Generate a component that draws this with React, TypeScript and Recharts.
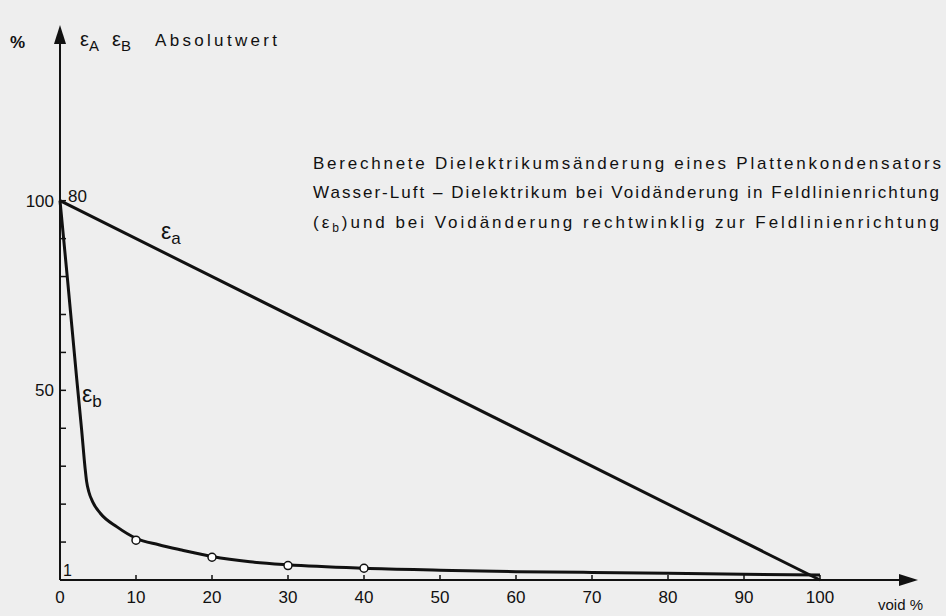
import { LineChart, Line, XAxis, YAxis, ReferenceDot } from 'recharts';

// void content in % (x) and relative dielectric value in % (y)
const voidB = [0, 1, 2.2, 2.85, 3.3, 3.5, 3.8, 4.3, 5.3, 7.5, 10, 13, 16, 20, 25, 30, 40, 50, 60, 70, 80, 90, 100];
const epsB = [100, 79, 53, 39.5, 29.5, 26, 23.2, 20.6, 17.6, 14, 11, 9.3, 7.9, 6.2, 4.8, 4, 3.1, 2.6, 2.2, 2, 1.8, 1.5, 1.3];

const voidA = [0, 100];
const epsA = [100, 0];

// measured points drawn as open circles on the eps_b curve
const markVoid = [10, 20, 30, 40];
const markEps = [10.5, 6, 3.8, 3.1];

const xTicks = [0, 10, 20, 30, 40, 50, 60, 70, 80, 90, 100];
const yTicks = [10, 20, 30, 40, 50, 60, 70, 80, 90, 100];
const yLabelled = [50, 100];

const toRows = (xs: number[], ys: number[]) => xs.map((x, i) => ({ x, y: ys[i] }));

const FONT = '"Liberation Sans", Arial, sans-serif';
const INK = '#111';

const XTick = ({ x, y, payload }: any) => (
    <g>
        {payload.value > 0 && <line x1={x} x2={x} y1={y} y2={y - 5} stroke={INK} strokeWidth={1.5} />}
        <text x={x} y={y + 23} textAnchor="middle" fontSize={17} fontFamily={FONT} fill={INK}>
            {payload.value}
        </text>
    </g>
);

const YTick = ({ x, y, payload }: any) => (
    <g>
        <line x1={x} x2={x + 6} y1={y} y2={y} stroke={INK} strokeWidth={1.5} />
        {yLabelled.includes(payload.value) && (
            <text x={x - 6} y={y + 6} textAnchor="end" fontSize={17} fontFamily={FONT} fill={INK}>
                {payload.value}
            </text>
        )}
        {payload.value === 100 && (
            <text x={x + 8} y={y + 1} fontSize={17} fontFamily={FONT} fill={INK}>80</text>
        )}
    </g>
);

const arrowRight = ({ cx, cy }: any) => (
    <path d={`M${cx + 3},${cy} L${cx - 16},${cy - 6} L${cx - 16},${cy + 6} Z`} fill={INK} />
);

const arrowUp = ({ cx, cy }: any) => (
    <path d={`M${cx},${cy - 5} L${cx - 6},${cy + 14} L${cx + 6},${cy + 14} Z`} fill={INK} />
);

const epsLabel = (sub: string) => ({ cx, cy }: any) => (
    <text x={cx} y={cy} fontSize={23} fontFamily={FONT} fill={INK}>
        ε<tspan fontSize={17} dy={5}>{sub}</tspan>
    </text>
);

const plainLabel = (s: string) => ({ cx, cy }: any) => (
    <text x={cx + 3} y={cy} fontSize={16} fontFamily={FONT} fill={INK}>{s}</text>
);

export default function App() {
    return (
        <div style={{ position: 'absolute', left: 0, top: 0, width: 946, height: 616, background: '#eeeeee' }}>
            <LineChart width={946} height={616} margin={{ top: 30, right: 31, bottom: 6, left: 0 }}>
                <XAxis
                    type="number"
                    dataKey="x"
                    domain={[0, 112.5]}
                    ticks={xTicks}
                    tick={XTick}
                    tickLine={false}
                    tickSize={0}
                    tickMargin={0}
                    height={30}
                    axisLine={{ stroke: INK, strokeWidth: 2 }}
                    allowDuplicatedCategory={false}
                />
                <YAxis
                    type="number"
                    dataKey="y"
                    domain={[0, 145]}
                    ticks={yTicks}
                    tick={YTick}
                    tickLine={false}
                    tickSize={0}
                    tickMargin={0}
                    width={60}
                    axisLine={{ stroke: INK, strokeWidth: 2 }}
                />
                <Line data={toRows(voidA, epsA)} dataKey="y" type="linear" stroke={INK} strokeWidth={3} dot={false} isAnimationActive={false} />
                <Line data={toRows(voidB, epsB)} dataKey="y" type="monotone" stroke={INK} strokeWidth={3} dot={false} isAnimationActive={false} />
                <Line
                    data={toRows(markVoid, markEps)}
                    dataKey="y"
                    stroke="none"
                    dot={{ r: 4, fill: '#fff', stroke: INK, strokeWidth: 1.5 }}
                    isAnimationActive={false}
                />
                <ReferenceDot x={112.5} y={0} r={0} ifOverflow="visible" shape={arrowRight} />
                <ReferenceDot x={0} y={145} r={0} ifOverflow="visible" shape={arrowUp} />
                <ReferenceDot x={13.3} y={90} r={0} ifOverflow="visible" shape={epsLabel('a')} />
                <ReferenceDot x={2.9} y={47} r={0} ifOverflow="visible" shape={epsLabel('b')} />
                <ReferenceDot x={0} y={1} r={0} ifOverflow="visible" shape={plainLabel('1')} />
                <text x={10} y={48} fontSize={17} fontFamily={FONT} fontWeight="bold" fill={INK}>%</text>
                <g fontFamily={FONT} fill={INK}>
                    <text x={80} y={46} fontSize={20}>ε<tspan fontSize={15} dy={5}>A</tspan></text>
                    <text x={112} y={46} fontSize={20}>ε<tspan fontSize={15} dy={5}>B</tspan></text>
                    <text x={155} y={46} fontSize={17} textLength={122} lengthAdjust="spacing">Absolutwert</text>
                </g>
                <g fontFamily={FONT} fontSize={17} fill={INK}>
                    <text x={313} y={169} textLength={628} lengthAdjust="spacing">
                        Berechnete Dielektrikumsänderung eines Plattenkondensators
                    </text>
                    <text x={313} y={198} textLength={626} lengthAdjust="spacing">
                        Wasser-Luft – Dielektrikum bei Voidänderung in Feldlinienrichtung
                    </text>
                    <text x={313} y={228} textLength={626} lengthAdjust="spacing">
                        (ε<tspan fontSize={12} dy={4}>b</tspan><tspan dy={-4}>)und bei Voidänderung rechtwinklig zur Feldlinienrichtung</tspan>
                    </text>
                </g>
                <text x={878} y={610} fontSize={15} fontFamily={FONT} fill={INK}>void %</text>
            </LineChart>
        </div>
    );
}
